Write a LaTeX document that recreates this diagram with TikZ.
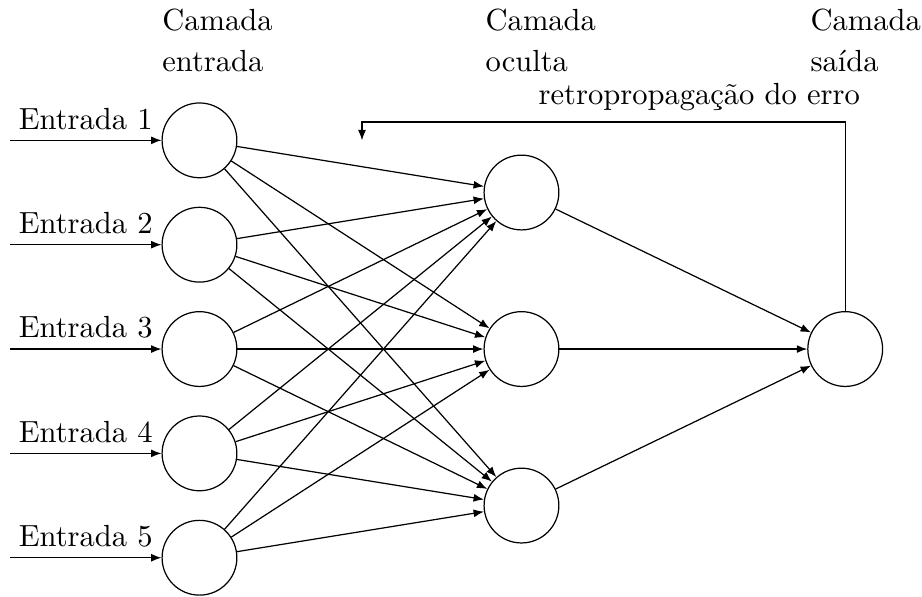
\documentclass[tikz,border=0pt]{standalone}
\usepackage{fontspec}
\usepackage{tikz}
\usetikzlibrary{shapes,arrows.meta,positioning,calc}
\tikzstyle{neuron} = [draw, circle, minimum size=0.86cm, inner sep=0pt]
\tikzstyle{line} = [draw, -{Latex[length=3.4pt, width=2.6pt]}]
\tikzstyle{layer} = [align=left, anchor=north west, inner sep=0pt]

\begin{document}
\begin{tikzpicture}
    \useasboundingbox (0,0) rectangle (10.603,6.854);

    % camadas
    \foreach \i in {1,...,5}
        \node [neuron] (in-\i) at (2.294, {2.84+1.2*(3-\i)}) {};
    \foreach \j in {1,2,3}
        \node [neuron] (hid-\j) at (5.997, {2.84+1.8*(2-\j)}) {};
    \node [neuron] (out) at (9.72, 2.84) {};

    \node [layer] (lbl-in) at (1.86, 6.76) {Camada\\[1.5pt]entrada};
    \node [layer] (lbl-hid) at (5.578, 6.76) {Camada\\[1.5pt]oculta};
    \node [layer] (lbl-out) at (9.315, 6.76) {Camada\\[1.5pt]saída};

    % entradas
    \foreach \i in {1,...,5} {
        \coordinate (src-\i) at (0.115, {2.84+1.2*(3-\i)});
        \path [line] (src-\i) -- node [above] {Entrada \i} (in-\i);
    }

    % ligacoes
    \foreach \i in {1,...,5}
        \foreach \j in {1,2,3}
            \path [line] (in-\i) -- (hid-\j);
    \foreach \j in {1,2,3}
        \path [line] (hid-\j) -- (out);

    % retropropagacao
    \coordinate (fb-top) at (4.163, 5.451);
    \coordinate (fb-end) at (4.163, 5.24);
    \path [line] (out) |- node [pos=0.651, above] {retropropagação do erro} (fb-top) -- (fb-end);
\end{tikzpicture}
\end{document}
